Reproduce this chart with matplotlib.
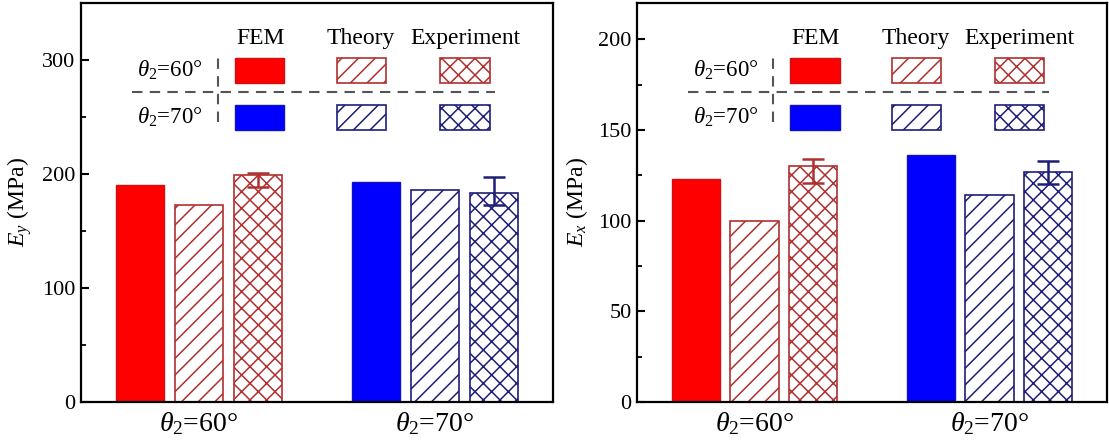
import matplotlib
matplotlib.use("Agg")
import matplotlib.pyplot as plt
import numpy as np
from matplotlib.patches import Rectangle
from matplotlib.lines import Line2D
from matplotlib.ticker import MultipleLocator

plt.rcParams['font.family'] = ['Liberation Serif', 'DejaVu Serif']
plt.rcParams['mathtext.fontset'] = 'custom'
plt.rcParams['mathtext.rm'] = 'Liberation Serif'
plt.rcParams['mathtext.it'] = 'Liberation Serif:italic'
plt.rcParams['hatch.linewidth'] = 1.1

# ---- data -------------------------------------------------------------
groups = [r'$\theta_2$=60°', r'$\theta_2$=70°']
methods = ['FEM', 'Theory', 'Experiment']

# Young's modulus E_y (MPa)
ey_fem = [190, 193]
ey_theory = [173, 186]
ey_exp = [199, 183]
ey_err_low = [10, 10]
ey_err_high = [2, 14]

# Young's modulus E_x (MPa)
ex_fem = [123, 136]
ex_theory = [100, 114]
ex_exp = [130, 127]
ex_err_low = [9, 7]
ex_err_high = [4, 6]

# ---- styling ----------------------------------------------------------
fill_colors = ['#FF0000', '#0000FF']
edge_colors = ['#B03030', '#1E1E78']
fem_edges = ['#D01010', '#1010C0']
hatches = {'Theory': '//', 'Experiment': 'xx'}

fig = plt.figure(figsize=(11.09, 4.45), dpi=100)
ax_l = fig.add_axes([81 / 1109, 43 / 445, 472 / 1109, 399 / 445])
ax_r = fig.add_axes([637 / 1109, 43 / 445, 470 / 1109, 399 / 445])

x = np.arange(len(groups))
step = 0.25
width = 0.205


def draw_panel(ax, fem, theory, exp, lo, hi, ylim, major, minor, ylabel):
    ax.bar(x - step, fem, width=width, color=fill_colors,
           edgecolor=fem_edges, linewidth=1.0)
    ax.bar(x, theory, width=width, color='white',
           edgecolor=edge_colors, linewidth=1.2, hatch=hatches['Theory'])
    ax.bar(x + step, exp, width=width, color='white',
           edgecolor=edge_colors, linewidth=1.2, hatch=hatches['Experiment'])
    for i in range(len(groups)):
        ax.errorbar(x[i] + step, exp[i], yerr=[[lo[i]], [hi[i]]], fmt='none',
                    ecolor=edge_colors[i], elinewidth=1.8, capsize=8,
                    capthick=1.8, zorder=5)

    ax.set_xlim(-0.5, 1.5)
    ax.set_ylim(0, ylim)
    ax.set_xticks(x)
    ax.set_xticklabels(groups, fontsize=20)
    ax.tick_params(axis='x', length=0, pad=6)
    ax.yaxis.set_major_locator(MultipleLocator(major))
    ax.yaxis.set_minor_locator(MultipleLocator(minor))
    ax.tick_params(axis='y', which='major', direction='in', length=6,
                   width=1.5, labelsize=16, pad=4)
    ax.tick_params(axis='y', which='minor', direction='in', length=3.5,
                   width=1.3)
    for s in ax.spines.values():
        s.set_linewidth(1.6)
    ax.set_ylabel(ylabel, fontsize=17, labelpad=6)

    # custom legend table drawn inside the axes
    tr = ax.transAxes
    col_x = [0.326, 0.542, 0.761]
    rect_w = 0.105
    rect_h = 0.062
    row_y = [0.800, 0.682]
    header_x = [0.380, 0.593, 0.814]
    for j, name in enumerate(methods):
        ax.text(header_x[j], 0.912, name, transform=tr, ha='center',
                va='center', fontsize=17)
    for r in range(2):
        ax.text(0.258, row_y[r] + rect_h / 2, groups[r], transform=tr,
                ha='right', va='center', fontsize=16.5)
        ax.add_patch(Rectangle((col_x[0], row_y[r]), rect_w, rect_h,
                               transform=tr, facecolor=fill_colors[r],
                               edgecolor=fem_edges[r], linewidth=1.0))
        ax.add_patch(Rectangle((col_x[1], row_y[r]), rect_w, rect_h,
                               transform=tr, facecolor='white',
                               edgecolor=edge_colors[r], linewidth=1.2,
                               hatch=hatches['Theory']))
        ax.add_patch(Rectangle((col_x[2], row_y[r]), rect_w, rect_h,
                               transform=tr, facecolor='white',
                               edgecolor=edge_colors[r], linewidth=1.2,
                               hatch=hatches['Experiment']))
    ax.add_line(Line2D([0.290, 0.290], [0.702, 0.877], transform=tr,
                       color='#555555', linewidth=1.5, dashes=(5, 3.5)))
    ax.add_line(Line2D([0.108, 0.877], [0.777, 0.777], transform=tr,
                       color='#555555', linewidth=1.5, dashes=(5, 3.5)))


draw_panel(ax_l, ey_fem, ey_theory, ey_exp, ey_err_low, ey_err_high,
           350, 100, 50, r'$E_y$ (MPa)')
draw_panel(ax_r, ex_fem, ex_theory, ex_exp, ex_err_low, ex_err_high,
           220, 50, 25, r'$E_x$ (MPa)')

fig.savefig('out.png', dpi=100)
